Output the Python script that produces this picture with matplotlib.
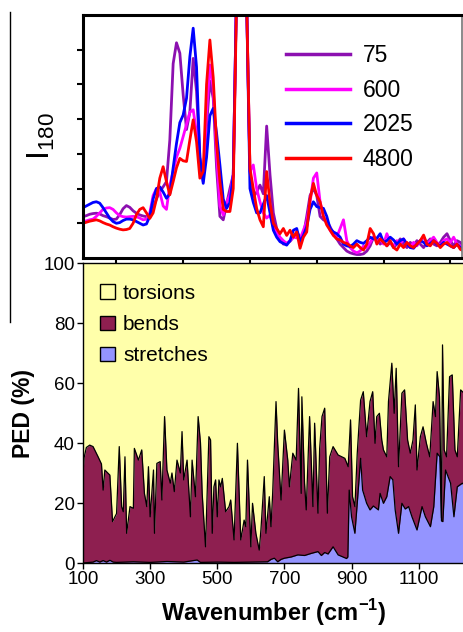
import numpy as np
import matplotlib
matplotlib.use("Agg")
import matplotlib.pyplot as plt
from matplotlib.lines import Line2D
from matplotlib.patches import Patch

plt.rcParams['font.family'] = ['Liberation Sans', 'DejaVu Sans']
plt.rcParams['mathtext.fontset'] = 'custom'
plt.rcParams['mathtext.rm'] = 'Liberation Sans'
plt.rcParams['mathtext.bf'] = 'Liberation Sans:bold'

# ---- top panel: I180 spectra, sampled every 10 cm-1 ----
wn_top = [100, 110, 120, 130, 140, 150, 160, 170, 180, 190,
          200, 210, 220, 230, 240, 250, 260, 270, 280, 290,
          300, 310, 320, 330, 340, 350, 360, 370, 380, 390,
          400, 410, 420, 430, 440, 450, 460, 470, 480, 490,
          500, 510, 520, 530, 540, 550, 560, 570, 580, 590,
          600, 610, 620, 630, 640, 650, 660, 670, 680, 690,
          700, 710, 720, 730, 740, 750, 760, 770, 780, 790,
          800, 810, 820, 830, 840, 850, 860, 870, 880, 890,
          900, 910, 920, 930, 940, 950, 960, 970, 980, 990,
          1000, 1010, 1020, 1030, 1040, 1050, 1060, 1070, 1080, 1090,
          1100, 1110, 1120, 1130, 1140, 1150, 1160, 1170, 1180, 1190,
          1200, 1210, 1220, 1230, 1240]

i_75 = [1.19, 1.22, 1.26, 1.28, 1.29, 1.27, 1.22, 1.19, 1.15, 1.11,
        1.12, 1.25, 1.42, 1.51, 1.46, 1.36, 1.29, 1.24, 1.21, 1.19,
        1.22, 1.45, 1.70, 1.92, 2.05, 2.2, 3.4, 5.6, 6.2, 5.9,
        4.7, 3.7, 4.2, 5.75, 4.8, 2.9, 2.3, 3.8, 5.1, 4.6,
        2.6, 1.2, 1.1, 1.55, 2.0, 2.4, 7.8, 10, 10, 7.4,
        2.49, 1.75, 1.9, 2.1, 1.85, 3.8, 2.4, 1.3, 0.85, 0.55,
        0.4, 0.42, 0.48, 0.6, 0.75, 0.6, 0.65, 1.2, 1.8, 2.0,
        1.8, 1.2, 1.1, 1.05, 0.9, 0.7, 0.55, 0.4, 0.3, 0.2,
        0.15, 0.12, 0.1, 0.1, 0.12, 0.2, 0.35, 0.6, 0.55, 0.4,
        0.5, 0.35, 0.45, 0.3, 0.4, 0.55, 0.4, 0.3, 0.45, 0.35,
        0.5, 0.4, 0.3, 0.45, 0.55, 0.4, 0.35, 0.45, 0.6, 0.7,
        0.5, 0.35, 0.5, 0.45, 0.3]

i_600 = [1.05, 1.07, 1.1, 1.12, 1.2, 1.3, 1.4, 1.44, 1.45, 1.4,
         1.3, 1.22, 1.19, 1.18, 1.19, 1.2, 1.19, 1.15, 1.1, 1.12,
         1.3, 1.8, 2.0, 1.9, 1.5, 1.4, 2.1, 2.5, 2.9, 3.16,
         3.5, 3.85, 4.2, 4.27, 3.6, 2.8, 2.2, 4.2, 5.56, 4.9,
         3.0, 1.5, 1.24, 1.6, 1.82, 2.4, 7.8, 10, 10, 7.4,
         2.5, 2.68, 2.0, 1.62, 1.3, 1.15, 1.24, 0.9, 0.75, 0.6,
         0.5, 0.42, 0.5, 0.6, 0.58, 0.55, 0.8, 1.05, 1.6, 2.3,
         2.45, 1.62, 1.2, 1.05, 0.8, 0.65, 0.6, 0.85, 1.1, 0.5,
         0.3, 0.2, 0.15, 0.2, 0.35, 0.3, 0.45, 0.6, 0.5, 0.55,
         0.4, 0.7, 0.45, 0.35, 0.5, 0.4, 0.55, 0.4, 0.3, 0.45,
         0.35, 0.5, 0.6, 0.4, 0.5, 0.6, 0.45, 0.35, 0.5, 0.55,
         0.45, 0.6, 0.4, 0.35, 0.3]

i_2025 = [1.45, 1.5, 1.55, 1.6, 1.62, 1.58, 1.45, 1.3, 1.15, 1.05,
          1.0, 1.02, 1.08, 1.12, 1.12, 1.1, 1.05, 1.0, 0.95, 0.98,
          1.2, 1.7, 2.0, 2.05, 1.9, 1.72, 1.85, 2.6, 3.3, 3.9,
          4.12, 4.6, 5.8, 6.62, 5.5, 2.9, 2.15, 2.9, 4.1, 4.31,
          3.6, 2.68, 1.7, 1.43, 1.6, 2.4, 7.8, 10, 10, 7.4,
          2.0, 1.6, 1.3, 1.3, 1.55, 1.8, 1.3, 0.8, 0.6, 0.47,
          0.42, 0.37, 0.5, 0.8, 0.85, 0.47, 0.65, 0.9, 1.4, 1.62,
          1.48, 1.45, 1.43, 1.2, 0.85, 0.75, 0.7, 0.6, 0.4, 0.35,
          0.33, 0.4, 0.5, 0.45, 0.42, 0.5, 0.6, 0.55, 0.57, 0.7,
          0.45, 0.5, 0.6, 0.52, 0.4, 0.5, 0.55, 0.4, 0.3, 0.28,
          0.4, 0.5, 0.45, 0.35, 0.42, 0.5, 0.4, 0.35, 0.45, 0.4,
          0.35, 0.3, 0.4, 0.3, 0.23]

i_4800 = [1.0, 1.03, 1.06, 1.08, 1.1, 1.07, 1.02, 0.98, 0.95, 0.9,
          0.86, 0.83, 0.81, 0.82, 0.85, 1.0, 1.25, 1.4, 1.45, 1.3,
          1.14, 1.3, 1.7, 2.3, 2.63, 2.2, 1.82, 2.2, 2.6, 2.87,
          2.8, 2.78, 3.4, 3.98, 3.35, 2.3, 2.5, 5.0, 6.28, 5.2,
          3.3, 2.2, 1.4, 1.34, 1.34, 2.0, 7.5, 10, 10, 7.4,
          2.58, 2.0, 1.43, 1.1, 0.9, 2.49, 1.6, 1.0, 0.85, 0.7,
          0.85, 0.65, 0.8, 0.6, 0.75, 0.28, 0.6, 0.75, 1.7, 2.15,
          1.8, 1.62, 1.2, 0.95, 0.8, 0.65, 0.55, 0.52, 0.45, 0.42,
          0.35, 0.3, 0.4, 0.3, 0.23, 0.4, 0.85, 0.7, 0.4, 0.55,
          0.45, 0.35, 0.5, 0.3, 0.23, 0.4, 0.3, 0.45, 0.35, 0.3,
          0.4, 0.5, 0.66, 0.4, 0.35, 0.5, 0.42, 0.3, 0.4, 0.45,
          0.35, 0.3, 0.4, 0.25, 0.2]

series_labels = ['75', '600', '2025', '4800']
series_colors = ['#8C10B0', '#FF00FF', '#0000FF', '#FF0000']

# ---- bottom panel: PED, stacked (stretches at bottom, bends on top of them) ----
# top edge of bends (stretches + bends), in %
wn_bends = [100, 103, 110, 120, 130, 145, 155, 160, 165, 180, 188, 200, 208, 215, 220, 225,
            230, 240, 250, 253, 260, 265, 275, 283, 290, 295, 300, 310, 313, 320, 330,
            335, 343, 350, 360, 365, 372, 380, 390, 395, 400, 410, 420, 425, 435, 443,
            450, 455, 465, 475, 480, 485, 490, 495, 500, 505, 510, 515, 525, 535, 540,
            550, 560, 570, 580, 585, 590, 600, 605, 615, 625, 630, 640, 645, 655, 660,
            665, 675, 680, 690, 700, 710, 715, 725, 735, 742, 750, 752, 760, 765, 775,
            785, 790, 800, 805, 812, 820, 828, 835, 845, 860, 880, 890, 897, 903, 910,
            917, 927, 935, 945, 955, 963, 970, 975, 983, 990, 995, 1005, 1010, 1020,
            1027, 1033, 1040, 1050, 1058, 1067, 1075, 1083, 1090, 1095, 1105, 1113,
            1123, 1133, 1143, 1150, 1155, 1162, 1168, 1171, 1176, 1183, 1192, 1200,
            1208, 1215, 1225, 1235, 1242]
ped_bends_top = [30, 35, 38.5, 39.3, 38.8, 35.4, 33, 24.3, 31, 29.3, 13.8, 16.5, 38.8, 18.8, 17.1, 35.4,
                 9.9, 18.8, 18.2, 38.2, 36, 34.3, 37.7, 23.2, 18.8, 32.1, 15.4, 31, 9.9, 33.2, 33.8,
                 21, 48.8, 31, 26.6, 30, 23.8, 34.3, 30, 43.8, 27.7, 34.3, 15.4, 34.3, 22.1, 48.8,
                 40, 23.2, 5.4, 42.1, 41, 9.9, 25.4, 27.7, 15.4, 27.7, 25.4, 28.2, 17.1, 18.8, 21,
                 7.7, 39.9, 7.7, 14.3, 12.1, 34.3, 5.4, 19.9, 9.9, 4.3, 11, 28.8, 9.9, 22.1, 12.1,
                 23.2, 53.8, 39.9, 21, 44.3, 34.3, 25.4, 36.6, 34.3, 58.2, 23.2, 55.4, 26.6, 17.7, 48.8,
                 18.8, 46.6, 16.6, 38.2, 48.8, 51.6, 16.6, 35.4, 38.8, 36, 34.9, 32.1, 47.7, 22.1, 18.8,
                 36.6, 54.3, 57.1, 42.1, 53.8, 57.1, 39.9, 48.8, 49.9, 41, 37.7, 35.4, 53.8, 66.6,
                 49.9, 64.9, 32.1, 56.6, 57.7, 41, 36.6, 41, 52.7, 31, 42.1, 45.4,
                 39.9, 35.4, 53.8, 48.8, 63.8, 55.4, 15, 72.7, 37.7, 35.4, 62.1, 62.7,
                 37.7, 35.4, 57.7, 56.6, 48.8]

# top edge of stretches, in %
wn_stretch = [100, 130, 140, 150, 160, 170, 180, 190, 200, 250, 300, 350, 400, 440, 450, 500,
              550, 600, 650, 660, 670, 680, 690, 700, 720, 740, 760, 780, 800, 810, 820,
              830, 845, 850, 860, 885, 889, 893, 900, 910, 917, 927, 933, 945, 955, 965,
              980, 985, 995, 1005, 1015, 1023, 1030, 1040, 1050, 1060, 1070, 1080, 1095,
              1110, 1120, 1135, 1145, 1155, 1163, 1168, 1172, 1180, 1195, 1205, 1215,
              1230, 1242]
ped_stretch = [0, 0.3, 0.8, 0.3, 0.8, 0.3, 0.9, 0.3, 0.2, 0.4, 0.2, 0.5, 0.3, 1.0, 0.2, 0.3,
               0.2, 0.3, 0.4, 1.2, 1.6, 0.4, 1.2, 1.6, 2.0, 2.7, 2.5, 3.2, 3.8, 2.5, 3.5,
               3.0, 5.4, 4.5, 2.7, 1.5, 2, 24.3, 15.4, 9.9, 19.9, 34.9, 24.3, 19.9, 17.7, 19,
               17.7, 23.2, 19.9, 22.1, 28.8, 27.7, 17.7, 9.9, 19.9, 18, 18.8, 15.4, 11,
               18.8, 15.4, 12.1, 18.8, 36.6, 35.4, 14, 13.8, 31, 26.6, 15.4, 25.4,
               26.6, 25.4]

ped_labels = ['torsions', 'bends', 'stretches']
ped_colors = ['#FFFFAA', '#8E1F50', '#9494FF']

fig = plt.figure(figsize=(4.64, 6.32), dpi=100)
ax1 = fig.add_axes([83/464, 1 - 258/632, 379/464, 243/632])
ax2 = fig.add_axes([83/464, 1 - 563/632, 381/464, 300/632])

# top panel
for vals, lab, col in zip([i_75, i_600, i_2025, i_4800], series_labels, series_colors):
    ax1.plot(wn_top, vals, color=col, lw=2.0, label=lab, solid_joinstyle='round')
ax1.set_xlim(100, 1235)
ax1.set_ylim(0, 7)
ax1.set_xticks([200, 400, 600, 800, 1000, 1200])
ax1.set_yticks([1, 2, 3, 4, 5, 6])
ax1.tick_params(axis='both', direction='out', labelbottom=False, labelleft=False,
                length=4.5, width=1.5)
for s in ['left', 'bottom', 'top']:
    ax1.spines[s].set_linewidth(2.2)
ax1.spines['right'].set_linewidth(1.2)
ax1.spines['right'].set_color('#777777')
ax1.set_ylabel(r'$\mathregular{I_{180}}$', fontsize=23, labelpad=14)
leg = ax1.legend(loc='upper left', bbox_to_anchor=(0.535, 0.88), frameon=False,
                 fontsize=16.5, handlelength=2.8, handletextpad=0.55, labelspacing=0.5,
                 borderpad=0, borderaxespad=0)
for h in leg.get_lines():
    h.set_linewidth(2.5)

# bottom panel: torsions fill the rest up to 100 %
ax2.fill_between(wn_bends, ped_bends_top, 100, color=ped_colors[0], lw=0)
ax2.fill_between(wn_bends, 0, ped_bends_top, color=ped_colors[1], lw=0)
ax2.fill_between(wn_stretch, 0, ped_stretch, color=ped_colors[2], lw=0)
ax2.plot(wn_bends, ped_bends_top, color='black', lw=0.9)
ax2.plot(wn_stretch, ped_stretch, color='black', lw=0.9)
ax2.set_xlim(100, 1235)
ax2.set_ylim(0, 100)
ax2.set_xticks([100, 300, 500, 700, 900, 1100])
ax2.set_yticks([0, 20, 40, 60, 80, 100])
ax2.tick_params(axis='both', direction='out', labelsize=13.5, length=4, width=1, pad=2)
ax2.spines['right'].set_visible(False)
for s in ['left', 'bottom', 'top']:
    ax2.spines[s].set_linewidth(1.0)
ax2.set_ylabel('PED (%)', fontsize=16.5, fontweight='bold', labelpad=6)
ax2.set_xlabel(r'Wavenumber (cm$^{\mathbf{-1}}$)', fontsize=17, fontweight='bold', labelpad=6)

handles = [Patch(facecolor=c, edgecolor='black', lw=1) for c in ped_colors]
ax2.legend(handles, ped_labels, loc='upper left', bbox_to_anchor=(0.045, 0.93), frameon=False,
           fontsize=15, handlelength=0.7, handleheight=0.7, handletextpad=0.4,
           labelspacing=0.58, borderpad=0, borderaxespad=0)

# stray vertical rule at the left edge of the page
fig.add_artist(Line2D([10/464, 10/464], [1 - 12/632, 1 - 322/632], color='black', lw=1))

fig.savefig('out.png', dpi=100)
